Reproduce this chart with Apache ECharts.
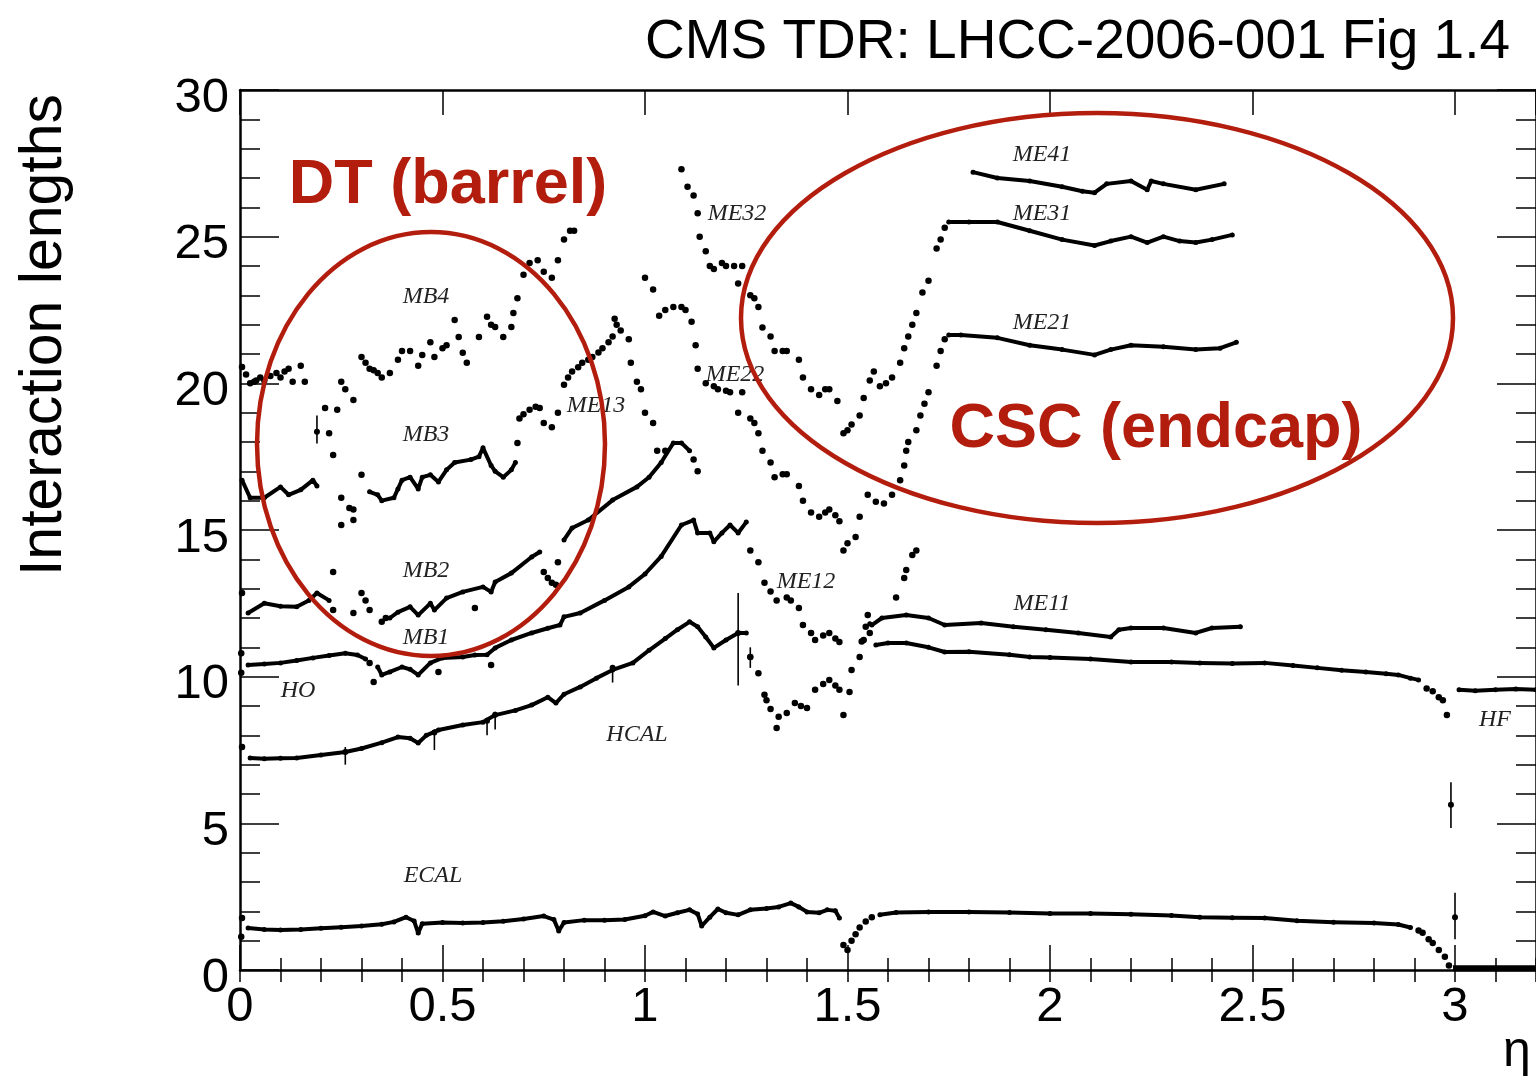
<!DOCTYPE html>
<html>
<head>
<meta charset="utf-8">
<title>CMS interaction lengths vs eta</title>
<script src="https://cdn.jsdelivr.net/npm/echarts@6/dist/echarts.min.js"></script>
<style>
  html, body { margin: 0; padding: 0; background: #fff; }
  #chart { width: 1536px; height: 1082px; }
</style>
</head>
<body>
<div id="chart"></div>
<script>
// ---- data: [eta, interaction lengths] ----
const ecalStart = [[0.005, 1.77], [0.003, 1.13]];
const ecalBarrel = [[0.02, 1.43], [0.06, 1.38], [0.1, 1.36], [0.15, 1.38], [0.2, 1.42], [0.25, 1.46], [0.3, 1.5], [0.35, 1.56], [0.38, 1.64], [0.41, 1.8], [0.43, 1.67], [0.44, 1.26], [0.45, 1.58], [0.5, 1.62], [0.55, 1.6], [0.6, 1.62], [0.65, 1.66], [0.7, 1.74], [0.75, 1.84], [0.775, 1.72], [0.787, 1.33], [0.8, 1.62], [0.85, 1.7], [0.9, 1.7], [0.95, 1.72], [1.0, 1.85], [1.02, 1.98], [1.05, 1.84], [1.08, 1.95], [1.11, 2.05], [1.13, 1.91], [1.14, 1.5], [1.16, 1.8], [1.18, 2.08], [1.2, 1.95], [1.23, 1.88], [1.26, 2.05], [1.3, 2.1], [1.33, 2.15], [1.36, 2.28], [1.38, 2.15], [1.4, 1.98], [1.43, 1.95], [1.45, 2.05], [1.47, 2.02], [1.48, 1.77]];
const ecalGap = [[1.49, 0.85], [1.5, 0.68], [1.51, 1.0], [1.52, 1.22], [1.53, 1.45], [1.545, 1.65], [1.56, 1.8]];
const ecalEndcap = [[1.58, 1.88], [1.62, 1.96], [1.7, 1.98], [1.8, 1.98], [1.9, 1.96], [2.0, 1.93], [2.1, 1.93], [2.2, 1.9], [2.3, 1.86], [2.37, 1.8], [2.45, 1.78], [2.53, 1.77], [2.61, 1.68], [2.7, 1.63], [2.8, 1.6], [2.86, 1.55], [2.89, 1.45]];
const ecalEdge = [[2.91, 1.35], [2.92, 1.27], [2.935, 1.05], [2.945, 0.92], [2.96, 0.68], [2.975, 0.45], [2.985, 0.15]];
const forwardFloor = [[2.995, 0.06], [3.1, 0.06], [3.2, 0.06]];

const hcalStart = [[0.005, 7.6]];
const hcalBarrel = [[0.025, 7.23], [0.06, 7.2], [0.1, 7.22], [0.14, 7.23], [0.2, 7.33], [0.26, 7.43], [0.3, 7.55], [0.35, 7.75], [0.39, 7.94], [0.42, 7.9], [0.44, 7.74], [0.46, 8.0], [0.49, 8.18], [0.55, 8.35], [0.6, 8.45], [0.63, 8.69], [0.68, 8.85], [0.72, 9.03], [0.76, 9.3], [0.78, 9.1], [0.8, 9.4], [0.84, 9.65], [0.88, 9.95], [0.92, 10.23], [0.97, 10.47], [1.01, 10.9], [1.05, 11.3], [1.08, 11.6], [1.11, 11.87], [1.13, 11.7], [1.15, 11.35], [1.17, 10.98], [1.2, 11.25], [1.23, 11.49], [1.25, 11.49]];
const hcalGap = [[1.26, 10.67], [1.28, 10.12], [1.295, 9.38], [1.3, 9.2], [1.31, 8.9], [1.325, 8.25], [1.33, 8.63], [1.35, 8.76], [1.37, 9.1], [1.385, 9.0], [1.4, 8.93], [1.42, 9.55], [1.44, 9.75], [1.455, 9.89], [1.47, 9.7], [1.48, 9.55], [1.49, 8.69], [1.505, 9.48], [1.51, 10.23], [1.53, 10.67], [1.54, 11.25], [1.555, 11.49]];
const hcalEndcap = [[1.57, 11.08], [1.6, 11.15], [1.645, 11.15], [1.7, 11.0], [1.74, 10.84], [1.8, 10.85], [1.9, 10.75], [1.95, 10.67], [2.0, 10.65], [2.1, 10.6], [2.2, 10.5], [2.3, 10.5], [2.37, 10.47], [2.45, 10.45], [2.53, 10.47], [2.6, 10.38], [2.66, 10.3], [2.72, 10.22], [2.78, 10.16], [2.83, 10.1], [2.86, 10.06], [2.89, 9.95], [2.91, 9.89]];
const hcalEdge = [[2.93, 9.6], [2.945, 9.5], [2.96, 9.3], [2.97, 9.2], [2.98, 8.69]];
const hfLine = [[3.01, 9.55], [3.05, 9.52], [3.1, 9.55], [3.15, 9.58], [3.2, 9.55]];

const hoStart = [[0.003, 10.8], [0.003, 10.13]];
const hoLine = [[0.02, 10.4], [0.06, 10.43], [0.1, 10.47], [0.14, 10.55], [0.18, 10.64], [0.22, 10.72], [0.26, 10.8], [0.29, 10.74], [0.31, 10.6]];
const mb1Dips = [[0.32, 10.47], [0.33, 9.82], [0.49, 10.16], [0.62, 10.4]];
const mb1Line = [[0.34, 10.33], [0.35, 10.06], [0.37, 10.16], [0.4, 10.33], [0.42, 10.25], [0.44, 10.06], [0.47, 10.47], [0.5, 10.64], [0.55, 10.67], [0.58, 10.74], [0.61, 10.75], [0.63, 10.98], [0.67, 11.25], [0.72, 11.49], [0.76, 11.65], [0.79, 11.76], [0.8, 12.04], [0.84, 12.17], [0.9, 12.6], [0.96, 13.06], [1.0, 13.5], [1.04, 14.1], [1.09, 15.17], [1.12, 15.34], [1.13, 14.9], [1.16, 14.9], [1.17, 14.6], [1.19, 14.9], [1.21, 15.17], [1.23, 14.9], [1.25, 15.27]];
const me12Points = [[1.26, 14.3], [1.28, 13.9], [1.295, 13.2], [1.31, 12.9], [1.325, 12.6], [1.35, 12.7], [1.36, 12.6], [1.38, 12.34], [1.39, 11.76], [1.41, 11.49], [1.42, 11.25], [1.44, 11.4], [1.455, 11.49], [1.47, 11.3], [1.48, 11.18], [1.535, 11.2], [1.545, 11.7], [1.55, 12.1], [1.62, 12.7], [1.64, 13.36], [1.645, 13.64], [1.66, 14.15], [1.67, 14.3]];
const me11Line = [[1.555, 11.8], [1.56, 11.76], [1.585, 12.0], [1.645, 12.1], [1.7, 12.0], [1.74, 11.76], [1.83, 11.83], [1.91, 11.7], [1.99, 11.6], [2.07, 11.49], [2.15, 11.35], [2.17, 11.6], [2.2, 11.66], [2.28, 11.66], [2.36, 11.49], [2.4, 11.66], [2.47, 11.7]];

const mb2Line1 = [[0.02, 12.17], [0.06, 12.5], [0.1, 12.4], [0.14, 12.38], [0.17, 12.6], [0.19, 12.85], [0.22, 12.6]];
const mb2Points = [[0.005, 12.85], [0.23, 12.27], [0.23, 13.57], [0.28, 12.17], [0.3, 12.85], [0.31, 12.6], [0.32, 12.27], [0.35, 11.87], [0.36, 12.0], [0.58, 12.34], [0.75, 13.57], [0.76, 13.36], [0.77, 13.2], [0.78, 13.13], [0.785, 13.9], [1.12, 17.4], [1.13, 17.0]];
const mb2Line2 = [[0.37, 12.0], [0.39, 12.2], [0.42, 12.38], [0.44, 12.1], [0.47, 12.5], [0.48, 12.27], [0.51, 12.68], [0.55, 12.89], [0.6, 13.06], [0.62, 12.89], [0.63, 13.23], [0.67, 13.53], [0.72, 14.08], [0.74, 14.25]];
const mb2Line3 = [[0.8, 14.66], [0.82, 15.07], [0.86, 15.34], [0.92, 16.02], [0.98, 16.47], [1.01, 16.8], [1.04, 17.3], [1.07, 17.97], [1.09, 17.97], [1.11, 17.7]];

const mb3Line1 = [[0.005, 16.7], [0.025, 16.1], [0.06, 16.1], [0.1, 16.47], [0.12, 16.2], [0.15, 16.37], [0.18, 16.7], [0.19, 16.5]];
const mb3Points = [[0.23, 17.56], [0.25, 16.1], [0.25, 15.17], [0.27, 15.75], [0.28, 15.7], [0.28, 15.34], [0.3, 16.88]];
const mb3Line2 = [[0.32, 16.3], [0.34, 16.2], [0.35, 16.0], [0.38, 16.1], [0.39, 16.4], [0.4, 16.7], [0.42, 16.8], [0.44, 16.4], [0.45, 16.8], [0.47, 16.88], [0.49, 16.64], [0.51, 17.05], [0.53, 17.3], [0.57, 17.4], [0.59, 17.5], [0.6, 17.8], [0.62, 17.2], [0.63, 17.0], [0.65, 16.8], [0.67, 17.05], [0.68, 17.3]];
const me13Points = [[0.685, 17.97], [0.69, 18.8], [0.7, 18.95], [0.715, 19.1], [0.73, 19.2], [0.74, 19.16], [0.75, 18.65], [0.77, 18.5], [0.785, 19.0], [0.8, 19.95], [0.81, 20.2], [0.82, 20.4], [0.835, 20.55], [0.845, 20.7], [0.86, 20.8], [0.87, 20.9], [0.885, 21.05], [0.895, 21.2], [0.91, 21.4], [0.92, 21.6], [0.925, 22.2], [0.93, 22.0], [0.94, 21.8], [0.96, 21.5], [0.965, 20.7], [0.98, 20.05], [0.99, 19.8], [1.0, 19.0], [1.02, 18.65], [1.03, 17.7], [1.05, 17.7]];

const mb4Points = [[0.005, 20.56], [0.015, 20.3], [0.025, 20.0], [0.035, 20.05], [0.04, 20.1], [0.05, 20.2], [0.06, 20.1], [0.075, 20.25], [0.09, 20.35], [0.1, 20.2], [0.11, 20.4], [0.12, 20.5], [0.13, 20.05], [0.15, 20.6], [0.16, 20.05], [0.21, 19.16], [0.22, 18.3], [0.24, 19.1], [0.25, 20.05], [0.26, 19.8], [0.28, 19.43], [0.3, 20.9], [0.31, 20.7], [0.32, 20.5], [0.33, 20.45], [0.34, 20.35], [0.35, 20.2], [0.37, 20.35], [0.39, 20.8], [0.4, 21.1], [0.42, 21.1], [0.44, 20.6], [0.45, 20.97], [0.47, 21.4], [0.48, 20.9], [0.5, 21.2], [0.51, 21.3], [0.53, 22.16], [0.54, 21.58], [0.55, 21.04], [0.56, 20.7], [0.59, 21.58], [0.61, 22.27], [0.62, 22.0], [0.63, 21.92], [0.65, 21.58], [0.67, 21.92], [0.675, 22.4], [0.685, 22.9], [0.7, 23.7], [0.715, 24.1], [0.735, 24.2], [0.75, 23.8], [0.77, 23.6], [0.785, 24.2], [0.8, 24.9], [0.815, 25.2], [0.825, 25.2]];

const me32Points = [[1.09, 27.3], [1.105, 26.7], [1.12, 26.4], [1.13, 25.8], [1.135, 25.0], [1.15, 24.5], [1.16, 24.0], [1.17, 23.9], [1.19, 24.1], [1.2, 24.0], [1.22, 24.0], [1.24, 24.0], [1.23, 23.4], [1.26, 23.0], [1.27, 22.9], [1.28, 22.6], [1.29, 21.9], [1.31, 21.6], [1.32, 21.1], [1.34, 21.1], [1.35, 21.1], [1.38, 20.8], [1.39, 20.2], [1.41, 19.8], [1.43, 19.6], [1.445, 19.8], [1.455, 19.8], [1.475, 19.4], [1.49, 18.3], [1.5, 18.4], [1.51, 18.6], [1.53, 18.9], [1.54, 19.5], [1.555, 20.1], [1.565, 20.4], [1.58, 19.9], [1.595, 20.0], [1.61, 20.2], [1.63, 20.7], [1.64, 21.2], [1.65, 21.6], [1.66, 22.0], [1.67, 22.4], [1.685, 23.1], [1.7, 23.5], [1.72, 24.6], [1.73, 24.9], [1.74, 25.3]];
const me31Line = [[1.75, 25.5], [1.8, 25.5], [1.87, 25.5], [1.95, 25.2], [2.03, 24.9], [2.11, 24.7], [2.15, 24.85], [2.2, 25.0], [2.24, 24.8], [2.28, 25.0], [2.32, 24.85], [2.36, 24.8], [2.4, 24.9], [2.45, 25.06]];

const me22Points = [[1.0, 23.6], [1.02, 23.2], [1.035, 22.3], [1.05, 22.5], [1.07, 22.6], [1.09, 22.6], [1.1, 22.5], [1.115, 22.1], [1.125, 21.3], [1.13, 20.5], [1.15, 20.0], [1.17, 19.9], [1.18, 19.8], [1.2, 19.75], [1.21, 19.7], [1.24, 19.7], [1.23, 19.0], [1.26, 18.8], [1.27, 18.65], [1.28, 18.3], [1.29, 17.7], [1.31, 17.3], [1.32, 16.8], [1.34, 16.9], [1.35, 16.9], [1.38, 16.5], [1.39, 16.0], [1.41, 15.6], [1.43, 15.45], [1.445, 15.6], [1.455, 15.7], [1.47, 15.5], [1.48, 15.3], [1.49, 14.3], [1.5, 14.55], [1.52, 14.76], [1.53, 15.45], [1.55, 16.2], [1.57, 15.96], [1.59, 15.9], [1.61, 16.2], [1.63, 16.7], [1.64, 17.2], [1.645, 17.7], [1.65, 18.0], [1.67, 18.4], [1.68, 18.9], [1.69, 19.3], [1.7, 19.7], [1.72, 20.6], [1.73, 21.1], [1.74, 21.5]];
const me21Line = [[1.75, 21.65], [1.78, 21.65], [1.87, 21.55], [1.95, 21.3], [2.03, 21.15], [2.11, 20.97], [2.15, 21.15], [2.2, 21.3], [2.28, 21.25], [2.36, 21.15], [2.42, 21.2], [2.46, 21.4]];

const me41Line = [[1.81, 27.2], [1.87, 27.0], [1.95, 26.9], [2.03, 26.7], [2.08, 26.55], [2.11, 26.5], [2.14, 26.8], [2.2, 26.9], [2.24, 26.6], [2.25, 26.9], [2.28, 26.8], [2.36, 26.6], [2.43, 26.8]];

// [eta, value, low, high]
const errorBars = [[0.19, 18.35, 17.95, 18.9], [1.23, 11.49, 9.7, 12.85], [2.99, 5.63, 4.84, 6.4], [3.0, 1.8, 1.05, 2.63], [0.26, 7.43, 7.0, 7.6], [0.48, 8.1, 7.5, 8.2], [0.61, 8.5, 8.0, 8.6], [0.63, 8.7, 8.2, 8.8], [0.92, 10.3, 9.8, 10.4], [1.26, 10.67, 10.3, 11.0]];

const xTicks = [0, 0.5, 1, 1.5, 2, 2.5, 3];
const yTicks = [0, 5, 10, 15, 20, 25, 30];

// curve labels drawn in the plot
const curveLabels = ['MB4', 'MB3', 'MB2', 'MB1', 'HO', 'HCAL', 'ECAL', 'ME13', 'ME22', 'ME32', 'ME12', 'ME11', 'ME21', 'ME31', 'ME41', 'HF'];
const labelPixels = [[426, 297], [426, 435], [426, 571], [426, 638], [298, 691], [637, 735], [433, 876], [596, 406], [735, 375], [737, 214], [806, 582], [1042, 604], [1042, 323], [1042, 214], [1042, 155], [1495, 720]];

const RED = '#b31d0e';
const INK = '#000';

const chart = echarts.init(document.getElementById('chart'));

const lineOf = data => ({
  type: 'line', data, xAxisIndex: 0, yAxisIndex: 0,
  symbol: 'circle', symbolSize: 5, showSymbol: true, silent: true,
  itemStyle: { color: INK, opacity: 1 },
  lineStyle: { color: INK, width: 4, join: 'round', cap: 'round' }
});
const dotsOf = data => ({
  type: 'scatter', data, xAxisIndex: 0, yAxisIndex: 0,
  symbol: 'circle', symbolSize: 6.5, silent: true,
  itemStyle: { color: INK, opacity: 1 }
});

const tickFont = { color: INK, fontSize: 49, fontFamily: 'Liberation Sans' };
const frameLine = { show: true, onZero: false, lineStyle: { color: INK, width: 2.5 } };

const xCommon = { type: 'value', min: 0, max: 3.2, splitLine: { show: false } };
const yCommon = { type: 'value', min: 0, max: 30, splitLine: { show: false } };

const option = {
  animation: false,
  backgroundColor: '#fff',
  grid: { left: 240, top: 90, right: -1, bottom: 112, containLabel: false },
  xAxis: [
    Object.assign({}, xCommon, {
      position: 'bottom', interval: 0.5,
      axisLine: frameLine,
      axisTick: { inside: true, length: 25, lineStyle: { color: INK, width: 1.5 } },
      axisLabel: {
        margin: 13, showMaxLabel: false, ...tickFont,
        formatter: v => (xTicks.indexOf(v) >= 0 ? String(v) : '')
      }
    }),
    Object.assign({}, xCommon, {
      position: 'bottom', interval: 0.1,
      axisLine: { show: false },
      axisTick: { inside: true, length: 12, lineStyle: { color: INK, width: 1.5 } },
      axisLabel: { show: false }
    }),
    Object.assign({}, xCommon, {
      position: 'top', interval: 0.5,
      axisLine: frameLine,
      axisTick: { inside: true, length: 25, lineStyle: { color: INK, width: 1.5 } },
      axisLabel: { show: false }
    }),
    Object.assign({}, xCommon, {
      position: 'top', interval: 0.1,
      axisLine: { show: false },
      axisTick: { inside: true, length: 12, lineStyle: { color: INK, width: 1.5 } },
      axisLabel: { show: false }
    })
  ],
  yAxis: [
    Object.assign({}, yCommon, {
      position: 'left', interval: 5,
      axisLine: frameLine,
      axisTick: { inside: true, length: 39, lineStyle: { color: INK, width: 1.5 } },
      minorTick: { show: true, splitNumber: 5, length: 20, lineStyle: { color: INK, width: 1.5 } },
      axisLabel: {
        margin: 11, ...tickFont, verticalAlign: 'top', lineHeight: 16,
        formatter: v => (yTicks.indexOf(v) >= 0 ? String(v) : '')
      }
    }),
    Object.assign({}, yCommon, {
      position: 'right', interval: 5,
      axisLine: frameLine,
      axisTick: { inside: true, length: 39, lineStyle: { color: INK, width: 1.5 } },
      minorTick: { show: true, splitNumber: 5, length: 20, lineStyle: { color: INK, width: 1.5 } },
      axisLabel: { show: false }
    })
  ],
  series: [
    dotsOf(ecalStart), lineOf(ecalBarrel), dotsOf(ecalGap), lineOf(ecalEndcap), dotsOf(ecalEdge),
    Object.assign(lineOf(forwardFloor), { symbol: 'none', lineStyle: { color: INK, width: 6 } }),
    dotsOf(hcalStart), lineOf(hcalBarrel), dotsOf(hcalGap), lineOf(hcalEndcap), dotsOf(hcalEdge), lineOf(hfLine),
    dotsOf(hoStart), lineOf(hoLine), dotsOf(mb1Dips), lineOf(mb1Line), dotsOf(me12Points), lineOf(me11Line),
    lineOf(mb2Line1), dotsOf(mb2Points), lineOf(mb2Line2), lineOf(mb2Line3),
    lineOf(mb3Line1), dotsOf(mb3Points), lineOf(mb3Line2), dotsOf(me13Points),
    dotsOf(mb4Points),
    dotsOf(me32Points), lineOf(me31Line),
    dotsOf(me22Points), lineOf(me21Line),
    lineOf(me41Line),
    {
      type: 'custom', data: errorBars, xAxisIndex: 0, yAxisIndex: 0, silent: true,
      encode: { x: 0, y: [1, 2, 3] },
      renderItem: (params, api) => {
        const hi = api.coord([api.value(0), api.value(3)]);
        const lo = api.coord([api.value(0), api.value(2)]);
        const mid = api.coord([api.value(0), api.value(1)]);
        return {
          type: 'group',
          children: [
            { type: 'line', shape: { x1: hi[0], y1: hi[1], x2: lo[0], y2: lo[1] }, style: { stroke: INK, lineWidth: 1.6 } },
            { type: 'circle', shape: { cx: mid[0], cy: mid[1], r: 3 }, style: { fill: INK } }
          ]
        };
      }
    }
  ],
  graphic: [
    {
      type: 'text', x: 1510, y: 43, z: 10,
      style: { text: 'CMS TDR: LHCC-2006-001 Fig 1.4', font: '55px "Liberation Sans"', fill: INK, textAlign: 'right', textVerticalAlign: 'middle' }
    },
    {
      type: 'text', x: 45, y: 335, z: 10, rotation: Math.PI / 2,
      style: { text: 'Interaction lengths', font: '59px "Liberation Sans"', fill: INK, textAlign: 'center', textVerticalAlign: 'middle' }
    },
    {
      type: 'text', x: 1503, y: 1052, z: 10,
      style: { text: 'η', font: '50px "Liberation Sans"', fill: INK, textAlign: 'left', textVerticalAlign: 'middle' }
    },
    {
      type: 'ellipse', z: 20, shape: { cx: 431, cy: 444, rx: 174, ry: 212 },
      style: { fill: 'none', stroke: RED, lineWidth: 4.5 }
    },
    {
      type: 'ellipse', z: 20, shape: { cx: 1097, cy: 318, rx: 356, ry: 205 },
      style: { fill: 'none', stroke: RED, lineWidth: 4.5 }
    },
    {
      type: 'text', x: 448, y: 186, z: 21,
      style: { text: 'DT (barrel)', font: 'bold 63px "Liberation Sans"', fill: RED, textAlign: 'center', textVerticalAlign: 'middle' }
    },
    {
      type: 'text', x: 1156, y: 430, z: 21,
      style: { text: 'CSC (endcap)', font: 'bold 63px "Liberation Sans"', fill: RED, textAlign: 'center', textVerticalAlign: 'middle' }
    }
  ].concat(curveLabels.map((t, i) => ({
    type: 'text', x: labelPixels[i][0], y: labelPixels[i][1], z: 15,
    style: { text: t, font: 'italic 24px "Liberation Serif"', fill: '#222', textAlign: 'center', textVerticalAlign: 'middle' }
  })))
};

chart.setOption(option);
</script>
</body>
</html>
